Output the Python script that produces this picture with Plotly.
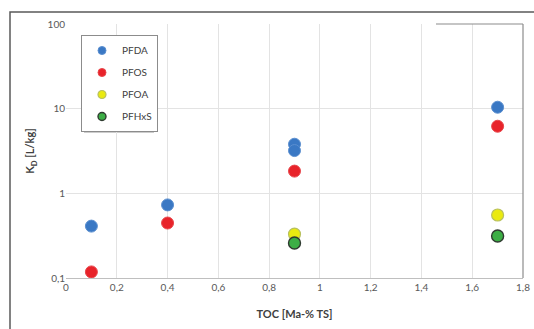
import plotly.graph_objects as go

# Data
series_names = ["PFDA", "PFOS", "PFOA", "PFHxS"]
pfda_x = [0.1, 0.4, 0.9, 0.9, 1.7]
pfda_y = [0.41, 0.73, 3.8, 3.2, 10.4]
pfos_x = [0.1, 0.4, 0.9, 1.7]
pfos_y = [0.118, 0.446, 1.83, 6.2]
pfoa_x = [0.9, 1.7]
pfoa_y = [0.33, 0.555]
pfhxs_x = [0.9, 1.7]
pfhxs_y = [0.259, 0.313]
x_ticks = [0, 0.2, 0.4, 0.6, 0.8, 1.0, 1.2, 1.4, 1.6, 1.8]
x_ticklabels = ["0", "0,2", "0,4", "0,6", "0,8", "1", "1,2", "1,4", "1,6", "1,8"]
y_ticks = [0.1, 1, 10, 100]
y_ticklabels = ["0,1", "1", "10", "100"]

FONT = "Lato, 'Liberation Sans', sans-serif"

styles = [
    dict(color="#3a78c4", line=dict(color="#5b8fd0", width=1)),
    dict(color="#e8232a", line=dict(color="#e8474c", width=1)),
    dict(color="#eaea10", line=dict(color="#b8c060", width=1.2)),
    dict(color="#3cae45", line=dict(color="#2f3a30", width=1.4)),
]
xs = [pfda_x, pfos_x, pfoa_x, pfhxs_x]
ys = [pfda_y, pfos_y, pfoa_y, pfhxs_y]

fig = go.Figure()
for name, x, y, st in zip(series_names, xs, ys, styles):
    fig.add_trace(go.Scatter(
        x=x, y=y, mode="markers", name=name, legendgroup=name, showlegend=False,
        marker=dict(size=12, color=st["color"], line=st["line"]),
    ))
# legend entries with smaller symbols
for name, st in zip(series_names, styles):
    fig.add_trace(go.Scatter(
        x=[None], y=[None], mode="markers", name=name, legendgroup=name, showlegend=True,
        marker=dict(size=8, color=st["color"], line=st["line"]),
    ))

W, H = 534, 329
PLOT_L, PLOT_R, PLOT_T, PLOT_B = 66, 523, 24, 278  # pixels
L, T = PLOT_L, PLOT_T
R, B = W - PLOT_R, H - PLOT_B
pw, ph = PLOT_R - PLOT_L, PLOT_B - PLOT_T

def px(xs_):
    return (xs_ - PLOT_L) / pw

def py(ys_):
    return (PLOT_B - ys_) / ph

shapes = [
    # outer frame
    dict(type="rect", xref="paper", yref="paper", x0=px(10), x1=px(545), y0=py(340), y1=py(12),
         line=dict(color="#595959", width=1.5), layer="below"),
    # right border of plot
    dict(type="line", xref="paper", yref="paper", x0=1, x1=1, y0=0, y1=1,
         line=dict(color="#8c8c8c", width=1.2)),
    dict(type="line", xref="paper", yref="paper", x0=px(436), x1=1, y0=1, y1=1,
         line=dict(color="#8c8c8c", width=1.2)),
    # legend shadow
    dict(type="rect", xref="paper", yref="paper", x0=px(84), x1=px(154), y0=py(133), y1=py(39),
         line=dict(width=0), fillcolor="rgba(0,0,0,0.2)", layer="below"),
]

fig.update_layout(
    width=W, height=H, autosize=False,
    margin=dict(l=L, r=R, t=T, b=B, pad=0, autoexpand=False),
    paper_bgcolor="white", plot_bgcolor="white",
    font=dict(family=FONT, size=10, color="#595959"),
    shapes=shapes,
    showlegend=True,
    legend=dict(
        x=px(81), y=py(35), xanchor="left", yanchor="top",
        bgcolor="white", bordercolor="#8c8c8c", borderwidth=1,
        font=dict(size=10, color="#404040", family=FONT),
        itemwidth=30, tracegroupgap=3,
    ),
    xaxis=dict(
        range=[0, 1.8], tickvals=x_ticks, ticktext=x_ticklabels, automargin=False,
        showgrid=True, gridcolor="#e3e3e3", gridwidth=1,
        zeroline=False, showline=True, linecolor="#bfbfbf", linewidth=1,
        ticks="", ticklen=0,
        title=dict(text="<b>TOC [Ma-% TS]</b>", font=dict(size=11, color="#404040"), standoff=18),
        tickfont=dict(size=10, color="#595959"),
    ),
    yaxis=dict(
        type="log", range=[-1, 2], tickvals=y_ticks, ticktext=y_ticklabels, automargin=False,
        showgrid=True, gridcolor="#e3e3e3", gridwidth=1,
        zeroline=False, showline=False, ticks="",
        title=dict(text="<b>K<sub>D</sub> [L/kg]</b>", font=dict(size=11, color="#404040"), standoff=10),
        tickfont=dict(size=10, color="#595959"),
    ),
)

fig.write_html(
    "out.html",
    config={"displayModeBar": False},
    post_script="document.body.style.margin='0';document.body.style.overflow='hidden';",
)
